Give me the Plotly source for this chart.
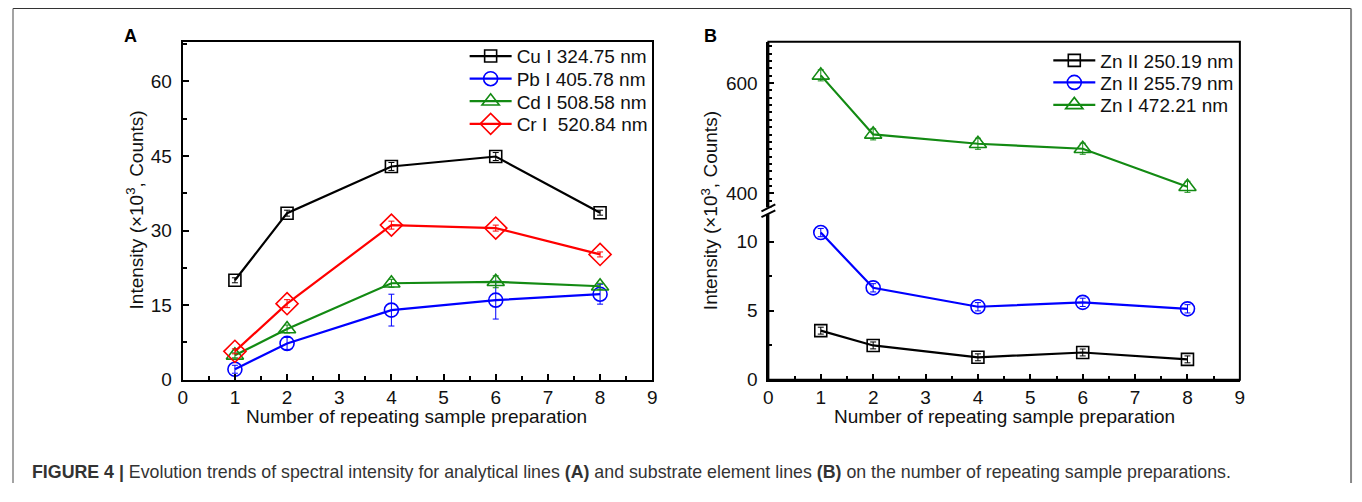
import plotly.graph_objects as go

# The page body has an 8px margin, so the figure is placed at (8, 8).
OFF = 8
W, H = 1354, 486
def px(x): return (x - OFF) / W
def py(y): return 1 - (y - OFF) / H

FONT = "Liberation Sans, Arial, sans-serif"

# ---- data panel A ----
x_vals = [1, 2, 4, 6, 8]
cu_vals = [20.0, 33.5, 42.9, 44.9, 33.6]
cu_err = [0.5, 0.6, 0.8, 0.8, 0.5]
pb_vals = [2.1, 7.3, 14.0, 16.0, 17.2]
pb_err = [0.8, 1.2, 3.2, 3.8, 2.0]
cd_vals = [4.9, 10.2, 19.4, 19.7, 18.8]
cd_err = [0.5, 0.8, 0.8, 1.2, 0.6]
cr_vals = [5.7, 15.3, 31.1, 30.5, 25.2]
cr_err = [0.5, 0.8, 0.8, 0.6, 0.5]
names_a = ["Cu I 324.75 nm", "Pb I 405.78 nm", "Cd I 508.58 nm", "Cr I  520.84 nm"]

# ---- data panel B ----
zn250_vals = [3.55, 2.48, 1.62, 1.97, 1.47]
zn250_err = [0.25, 0.25, 0.25, 0.25, 0.25]
zn255_vals = [10.65, 6.65, 5.28, 5.60, 5.13]
zn255_err = [0.3, 0.3, 0.3, 0.3, 0.3]
zn472_vals = [614, 507, 490, 481, 412]
zn472_err = [10, 10, 10, 10, 10]
names_b = ["Zn II 250.19 nm", "Zn II 255.79 nm", "Zn I 472.21 nm"]

BLACK, BLUE, GREEN, RED = "#000000", "#0000ff", "#138a13", "#ff0000"

fig = go.Figure()

def add(xs, ys, err, name, color, symbol, size, xa, ya, legend):
    fig.add_trace(go.Scatter(
        x=xs, y=ys, name=name, mode="lines+markers",
        line=dict(color=color, width=2.2),
        marker=dict(symbol=symbol, size=size, color=color,
                    line=dict(color=color, width=1.6)),
        error_y=dict(type="data", array=err, visible=True, color=color,
                     thickness=1, width=3),
        xaxis=xa, yaxis=ya, legend=legend))

add(x_vals, cu_vals, cu_err, names_a[0], BLACK, "square-open", 12, "x", "y", "legend")
add(x_vals, pb_vals, pb_err, names_a[1], BLUE, "circle-open", 14, "x", "y", "legend2")
add(x_vals, cd_vals, cd_err, names_a[2], GREEN, "triangle-up-open", 15, "x", "y", "legend3")
add(x_vals, cr_vals, cr_err, names_a[3], RED, "diamond-open", 17, "x", "y", "legend4")

add(x_vals, zn250_vals, zn250_err, names_b[0], BLACK, "square-open", 12, "x2", "y2", "legend5")
add(x_vals, zn255_vals, zn255_err, names_b[1], BLUE, "circle-open", 14, "x2", "y2", "legend6")
add(x_vals, zn472_vals, zn472_err, names_b[2], GREEN, "triangle-up-open", 15, "x2", "y3", "legend7")

tickfont = dict(family=FONT, size=19, color="#111")
minor_x = dict(dtick=0.5, ticks="inside", ticklen=4, tickcolor="black", tickwidth=1.5)
common_x = dict(range=[0, 9], dtick=1, tick0=0, ticks="inside", ticklen=6,
                tickwidth=1.5, tickcolor="black", showline=True, linecolor="black",
                linewidth=2, showgrid=False, zeroline=False, tickfont=tickfont,
                minor=minor_x)
common_y = dict(ticks="inside", ticklen=6, tickwidth=1.5, tickcolor="black",
                showline=True, linecolor="black", linewidth=2, showgrid=False,
                zeroline=False, tickfont=tickfont, ticklabelstandoff=5)

def leg(x, y):
    return dict(x=px(x), y=py(y), xanchor="left", yanchor="middle",
                bgcolor="rgba(0,0,0,0)", itemwidth=42, tracegroupgap=0,
                font=dict(family=FONT, size=19, color="#111"))

fig.update_layout(
    width=W, height=H, margin=dict(l=0, r=0, t=0, b=0),
    paper_bgcolor="white", plot_bgcolor="white",
    font=dict(family=FONT, size=19, color="#111"),
    xaxis=dict(domain=[px(179), px(652)], anchor="y", mirror=True, **common_x),
    yaxis=dict(domain=[py(388.3), py(42.5)], anchor="x", range=[0, 68], dtick=15,
               mirror=True,
               minor=dict(dtick=7.5, ticks="inside", ticklen=4, tickcolor="black", tickwidth=1.5),
               **common_y),
    xaxis2=dict(domain=[px(769), px(1244)], anchor="y2", **common_x),
    yaxis2=dict(domain=[py(388.3), py(215.3)], anchor="x2", range=[0, 12.24], dtick=5,
                minor=dict(dtick=2.5, ticks="inside", ticklen=4, tickcolor="black", tickwidth=1.5),
                **common_y),
    yaxis3=dict(domain=[py(215.3), py(42.5)], anchor="x2", range=[368.8, 675],
                tickvals=[400, 600],
                minor=dict(tick0=400, dtick=200 / 15, ticks="inside", ticklen=4,
                           tickcolor="black", tickwidth=1.5),
                **common_y),
    legend=leg(463, 57.3),
    legend2=leg(463, 80.5),
    legend3=leg(463, 103.5),
    legend4=leg(463, 126.7),
    legend5=leg(1051, 61.7),
    legend6=leg(1051, 84.3),
    legend7=leg(1051, 107.3),
    showlegend=True,
)

shapes = []
# box around panel B
shapes.append(dict(type="rect", xref="paper", yref="paper",
                   x0=px(769), x1=px(1244), y0=py(388.3), y1=py(42.5),
                   line=dict(color="black", width=2)))
# axis break on panel B
shapes.append(dict(type="rect", xref="paper", yref="paper",
                   x0=px(765), x1=px(773), y0=py(219), y1=py(212),
                   fillcolor="white", line=dict(width=0)))
shapes.append(dict(type="line", xref="paper", yref="paper",
                   x0=px(762), y0=py(216), x1=px(776), y1=py(209),
                   line=dict(color="black", width=2)))
shapes.append(dict(type="line", xref="paper", yref="paper",
                   x0=px(762), y0=py(222), x1=px(776), y1=py(215),
                   line=dict(color="black", width=2)))
# figure frame
shapes.append(dict(type="line", xref="paper", yref="paper",
                   x0=px(8), y0=py(8.5), x1=px(1356), y1=py(8.5),
                   line=dict(color="#333", width=1.2)))
shapes.append(dict(type="line", xref="paper", yref="paper",
                   x0=px(8), y0=py(8.5), x1=px(8), y1=0,
                   line=dict(color="#666", width=1.2)))
shapes.append(dict(type="line", xref="paper", yref="paper",
                   x0=px(1356), y0=py(8.5), x1=px(1356), y1=0,
                   line=dict(color="#888", width=2)))
fig.update_layout(shapes=shapes)

ann = []
ytitle = "Intensity (×10<sup>3</sup>, Counts)"
xtitle = "Number of repeating sample preparation"
tf = dict(family=FONT, size=19, color="#111")
def note(text, x, y, font, angle=0, xanchor="center"):
    ann.append(dict(text=text, x=px(x), y=py(y), xref="paper", yref="paper",
                    xanchor=xanchor, yanchor="middle", textangle=angle,
                    showarrow=False, font=font))
note(ytitle, 131, 215, tf, angle=-90)
note(ytitle, 710, 215, tf, angle=-90)
note(xtitle, 415, 425.5, tf)
note(xtitle, 1007, 425.5, tf)
note("<b>A</b>", 126, 36.5, dict(family=FONT, size=18, color="black"))
note("<b>B</b>", 711, 36.5, dict(family=FONT, size=18, color="black"))
note("<b>FIGURE 4 |</b> Evolution trends of spectral intensity for analytical lines "
     "<b>(A)</b> and substrate element lines <b>(B)</b> on the number of repeating "
     "sample preparations.", 25, 483, dict(family=FONT, size=17.8, color="#333"),
     xanchor="left")
fig.update_layout(annotations=ann)

fig.write_html("out.html")
